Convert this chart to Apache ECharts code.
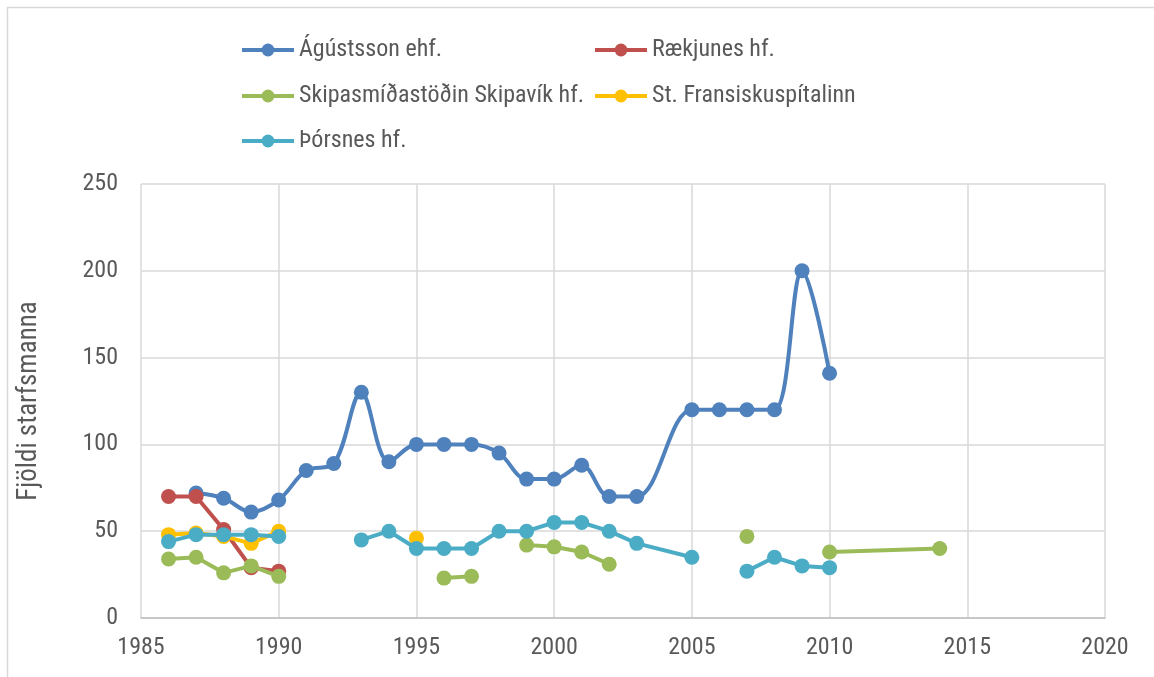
<!DOCTYPE html>
<html>
<head>
<meta charset="utf-8">
<script src="https://cdn.jsdelivr.net/npm/echarts@6/dist/echarts.min.js"></script>
<style>html,body{margin:0;padding:0;background:#fff}#c{width:1154px;height:677px}</style>
</head>
<body>
<div id="c"></div>
<script>
const seriesNames = ['Ágústsson ehf.', 'Rækjunes hf.', 'Skipasmíðastöðin Skipavík hf.', 'St. Fransiskuspítalinn', 'Þórsnes hf.'];
const colors = ['#4F81BD', '#C0504D', '#9BBB59', '#FFC000', '#4BACC6'];

const agustYears = [1987,1988,1989,1990,1991,1992,1993,1994,1995,1996,1997,1998,1999,2000,2001,2002,2003,2005,2006,2007,2008,2009,2010];
const agustVals  = [72,69,61,68,85,89,130,90,100,100,100,95,80,80,88,70,70,120,120,120,120,200,141];

const raekYears = [1986,1987,1988,1989,1990];
const raekVals  = [70,70,51,29,27];

const skipYears = [1986,1987,1988,1989,1990,1991,1996,1997,1998,1999,2000,2001,2002,2003,2007,2008,2010,2014];
const skipVals  = [34,35,26,30,24,null,23,24,null,42,41,38,31,null,47,null,38,40];

const stfYears = [1986,1987,1988,1989,1990,1991,1995];
const stfVals  = [48,49,47,43,50,null,46];

const thorYears = [1986,1987,1988,1989,1990,1991,1993,1994,1995,1996,1997,1998,1999,2000,2001,2002,2003,2005,2006,2007,2008,2009,2010];
const thorVals  = [44,48,48,48,47,null,45,50,40,40,40,50,50,55,55,50,43,35,null,27,35,30,29];

const xTicks = {min: 1985, max: 2020, interval: 5};
const yTicks = {min: 0, max: 250, interval: 50};

const allYears = [agustYears, raekYears, skipYears, stfYears, thorYears];
const allVals = [agustVals, raekVals, skipVals, stfVals, thorVals];

const FONT = "'Liberation Sans Narrow', 'Roboto Condensed', 'Open Sans', sans-serif";
const TXT = '#595959';

const series = seriesNames.map((n, i) => ({
  name: n,
  type: 'line',
  data: allYears[i].map((y, j) => [y, allVals[i][j] === null ? '-' : allVals[i][j]]),
  smooth: i === 0 ? 0.35 : false,
  connectNulls: false,
  symbol: 'circle',
  symbolSize: 15,
  lineStyle: {width: 4, color: colors[i]},
  itemStyle: {color: colors[i]},
  z: 2 + i
}));

const legendPos = [[235, 33], [588, 33], [235, 79], [588, 79], [235, 124]];
const legends = seriesNames.map((n, i) => ({
  data: [n],
  left: legendPos[i][0],
  top: legendPos[i][1],
  itemWidth: 52,
  itemHeight: 16,
  itemGap: 0,
  lineStyle: {width: 4},
  textStyle: {fontSize: 24, color: TXT, fontFamily: FONT}
}));

const chart = echarts.init(document.getElementById('c'));
chart.setOption({
  animation: false,
  backgroundColor: '#fff',
  color: colors,
  graphic: [{
    type: 'rect',
    shape: {x: 7.5, y: 7.5, width: 1200, height: 700},
    style: {fill: 'none', stroke: '#D9D9D9', lineWidth: 1.5},
    silent: true, z: -10
  }],
  legend: legends,
  grid: {left: 141, right: 49, top: 184, bottom: 59},
  xAxis: {
    type: 'value',
    min: xTicks.min, max: xTicks.max, interval: xTicks.interval,
    axisLine: {show: true, lineStyle: {color: '#BFBFBF', width: 1.5}},
    axisTick: {show: false},
    splitLine: {show: true, lineStyle: {color: '#D9D9D9', width: 1.5}},
    axisLabel: {fontSize: 24, color: TXT, fontFamily: FONT, margin: 18, formatter: v => String(v)}
  },
  yAxis: {
    type: 'value',
    min: yTicks.min, max: yTicks.max, interval: yTicks.interval,
    name: 'Fjöldi starfsmanna',
    nameLocation: 'middle',
    nameGap: 98,
    nameRotate: 90,
    nameTextStyle: {fontSize: 27, color: TXT, fontFamily: FONT},
    axisLine: {show: false},
    axisTick: {show: false},
    splitLine: {show: true, lineStyle: {color: '#D9D9D9', width: 1.5}},
    axisLabel: {fontSize: 24, color: TXT, fontFamily: FONT, margin: 23}
  },
  series: series
});
</script>
</body>
</html>
